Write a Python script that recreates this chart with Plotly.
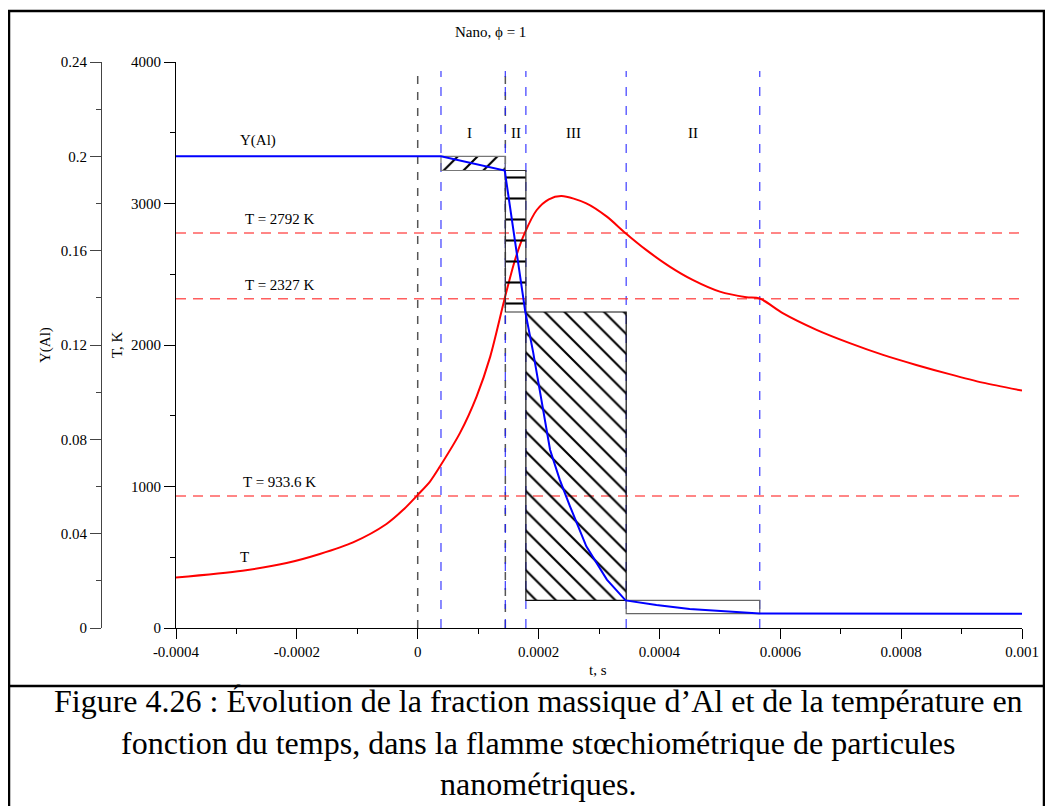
import plotly.graph_objects as go

# ---------------- data ----------------
t_T = [-0.0004, -0.00029, -0.000217, -0.000162, -0.000107, -0.0000517, -0.000024, 0.0,
       0.0000203, 0.0000367, 0.0000698, 0.0000974, 0.00012, 0.000144, 0.000161, 0.000177,
       0.000197, 0.000217, 0.000238, 0.000279, 0.000313, 0.000344, 0.000378, 0.000417,
       0.000455, 0.0005, 0.000544, 0.000566, 0.000604, 0.00066, 0.000715, 0.00077,
       0.000825, 0.00088, 0.000935, 0.001]
T_vals = [357, 405, 459, 523, 605, 735, 835, 941,
          1035, 1141, 1377, 1636, 1918, 2330, 2601, 2790,
          2954, 3030, 3053, 3001, 2907, 2790, 2672, 2554,
          2460, 2377, 2338, 2329, 2225, 2107, 2013, 1930,
          1859, 1794, 1734, 1678]

t_Y = [-0.0004, 0.0000384, 0.000144, 0.000161, 0.000178, 0.000191, 0.000202, 0.000219,
       0.000235, 0.000252, 0.000279, 0.000313, 0.000344, 0.000395, 0.00045, 0.000566, 0.001]
Y_vals = [0.2, 0.2, 0.194, 0.1646, 0.1341, 0.117, 0.101, 0.0756,
          0.0629, 0.0516, 0.0346, 0.0205, 0.0117, 0.0098, 0.0081, 0.0061, 0.006]

x_tickvals = [-0.0004, -0.0002, 0, 0.0002, 0.0004, 0.0006, 0.0008, 0.001]
x_ticktext = ["-0.0004", "-0.0002", "0", "0.0002", "0.0004", "0.0006", "0.0008", "0.001"]
T_tickvals = [0, 1000, 2000, 3000, 4000]
T_ticktext = ["0", "1000", "2000", "3000", "4000"]
Y_tickvals = [0, 0.04, 0.08, 0.12, 0.16, 0.2, 0.24]
Y_ticktext = ["0", "0.04", "0.08", "0.12", "0.16", "0.2", "0.24"]

ref_T = [2792, 2327, 933.6]
ref_T_labels = ["T = 2792 K", "T = 2327 K", "T = 933.6 K"]
ref_label_t = -0.000228

black_vlines = [0.0, 0.000145]
blue_vlines = [0.0000385, 0.000145, 0.000179, 0.000345, 0.000566]

zone_labels = ["I", "II", "III", "II"]
zone_t = [0.0000852, 0.0001625, 0.000257, 0.000456]
zone_T = 3500

box_t0 = [0.0000385, 0.000145, 0.000179, 0.000345]
box_t1 = [0.000145, 0.000179, 0.000345, 0.000566]
box_y0 = [0.194, 0.134, 0.0117, 0.0061]
box_y1 = [0.2, 0.194, 0.134, 0.0117]
box_hatch = ["/", "-", "\\", ""]

caption_lines = [
    "Figure 4.26 : Évolution de la fraction massique d’Al et de la température en",
    "fonction du temps, dans la flamme stœchiométrique de particules",
    "nanométriques.",
]

# ---------------- layout helpers ----------------
OFF = 8  # page body margin
W, H = 1053, 806
PL, PR, PT, PB = 101, 1022, 62, 628


def px(x):
    return (x - PL) / (PR - PL)


def py(y):
    return (PB - y) / (PB - PT)


FONT = "Liberation Serif"
fig = go.Figure()

# hatched boxes
hatch_style = {"/": (14, 0.15), "\\": (14, 0.15), "-": (21, 0.1), "": (8, 0.3)}
box_line = ["#777", "#333", "#111", "#666"]
for i in range(len(box_t0)):
    size, sol = hatch_style[box_hatch[i]]
    fig.add_trace(go.Bar(
        x=[(box_t0[i] + box_t1[i]) / 2], y=[box_y1[i] - box_y0[i]], base=[box_y0[i]],
        width=[box_t1[i] - box_t0[i]], yaxis="y2",
        marker=dict(color="rgba(0,0,0,0)", line=dict(color=box_line[i], width=1.2),
                    pattern=dict(shape=box_hatch[i], fgcolor="black", bgcolor="rgba(0,0,0,0)",
                                 fgopacity=1, size=size, solidity=sol, fillmode="overlay")),
        hoverinfo="skip", showlegend=False))

fig.add_trace(go.Scatter(x=t_T, y=T_vals, mode="lines", yaxis="y",
                         line=dict(color="#ff0000", width=2, shape="spline", smoothing=0.8),
                         hoverinfo="skip", showlegend=False))
fig.add_trace(go.Scatter(x=t_Y, y=Y_vals, mode="lines", yaxis="y2",
                         line=dict(color="#0000ff", width=2),
                         hoverinfo="skip", showlegend=False))

shapes = []
vtop = py(71)
for t in black_vlines:
    shapes.append(dict(type="line", xref="x", yref="paper", x0=t, x1=t, y0=0, y1=vtop,
                       line=dict(color="#555", width=1.5, dash="8px,8px"), layer="below"))
for t in blue_vlines:
    shapes.append(dict(type="line", xref="x", yref="paper", x0=t, x1=t, y0=0, y1=vtop,
                       line=dict(color="rgba(30,30,255,0.8)", width=1.3, dash="9px,10px"), layer="below"))
for v in ref_T:
    shapes.append(dict(type="line", xref="x", yref="y", x0=x_tickvals[0], x1=x_tickvals[-1], y0=v, y1=v,
                       line=dict(color="rgba(255,40,40,0.75)", width=1.5, dash="10px,7px"), layer="below"))
# frame
shapes.append(dict(type="rect", xref="paper", yref="paper", x0=px(9), x1=px(1044), y0=py(830), y1=py(11),
                   line=dict(color="black", width=2.5)))
shapes.append(dict(type="line", xref="paper", yref="paper", x0=px(9), x1=px(1044), y0=py(686), y1=py(686),
                   line=dict(color="black", width=2.5)))

ann = []


def A(**kw):
    kw.setdefault("showarrow", False)
    kw.setdefault("xanchor", "center")
    kw.setdefault("yanchor", "middle")
    ann.append(kw)


for lab, v in zip(ref_T_labels, ref_T):
    A(x=ref_label_t, y=v, xref="x", yref="y", text=lab, yshift=14, font=dict(size=15))
for lab, t in zip(zone_labels, zone_t):
    A(x=t, y=zone_T, xref="x", yref="y", text=lab, font=dict(size=15))
A(x=px(490), y=py(32), xref="paper", yref="paper", text="Nano, ϕ = 1", font=dict(size=15))
A(x=px(258), y=py(140), xref="paper", yref="paper", text="Y(Al)", font=dict(size=15))
A(x=px(244), y=py(557), xref="paper", yref="paper", text="T", font=dict(size=15))
A(x=px(45), y=py(345), xref="paper", yref="paper", text="Y(Al)", textangle=-90, font=dict(size=15))
A(x=px(117), y=py(345), xref="paper", yref="paper", text="T, K", textangle=-90, font=dict(size=15))
A(x=px(598), y=py(670), xref="paper", yref="paper", text="t, s", font=dict(size=15))
A(x=px(538), y=py(742), xref="paper", yref="paper", text="<br>".join(caption_lines),
  align="center", font=dict(size=32))

fig.update_layout(
    width=W - OFF, height=H - OFF,
    margin=dict(l=PL - OFF, r=W - PR, t=PT - OFF, b=H - PB, pad=0, autoexpand=False),
    paper_bgcolor="white", plot_bgcolor="white",
    font=dict(family=FONT, size=15, color="black"),
    barmode="overlay", showlegend=False,
    shapes=shapes, annotations=ann,
    xaxis=dict(domain=[px(176), 1], range=[x_tickvals[0], x_tickvals[-1]], showgrid=False, zeroline=False,
               showline=True, linecolor="black", linewidth=1, ticks="outside", ticklen=10, tickcolor="black",
               tickvals=x_tickvals, ticktext=x_ticktext,
               minor=dict(dtick=0.0001, ticks="outside", ticklen=5, tickcolor="black"),
               anchor="y"),
    yaxis=dict(range=[0, 4000], showgrid=False, zeroline=False, showline=True, linecolor="black",
               linewidth=1, ticks="outside", ticklen=11, tickcolor="black",
               tickvals=T_tickvals, ticktext=T_ticktext,
               minor=dict(dtick=500, ticks="outside", ticklen=5, tickcolor="black"),
               anchor="x"),
    yaxis2=dict(range=[0, 0.24], overlaying="y", anchor="free", position=0, side="left",
                showgrid=False, zeroline=False, showline=True, linecolor="#444", linewidth=1,
                ticks="outside", ticklen=11, tickcolor="#444",
                tickvals=Y_tickvals, ticktext=Y_ticktext,
                minor=dict(dtick=0.02, ticks="outside", ticklen=5, tickcolor="#444")),
)

fig.write_html("out.html")
